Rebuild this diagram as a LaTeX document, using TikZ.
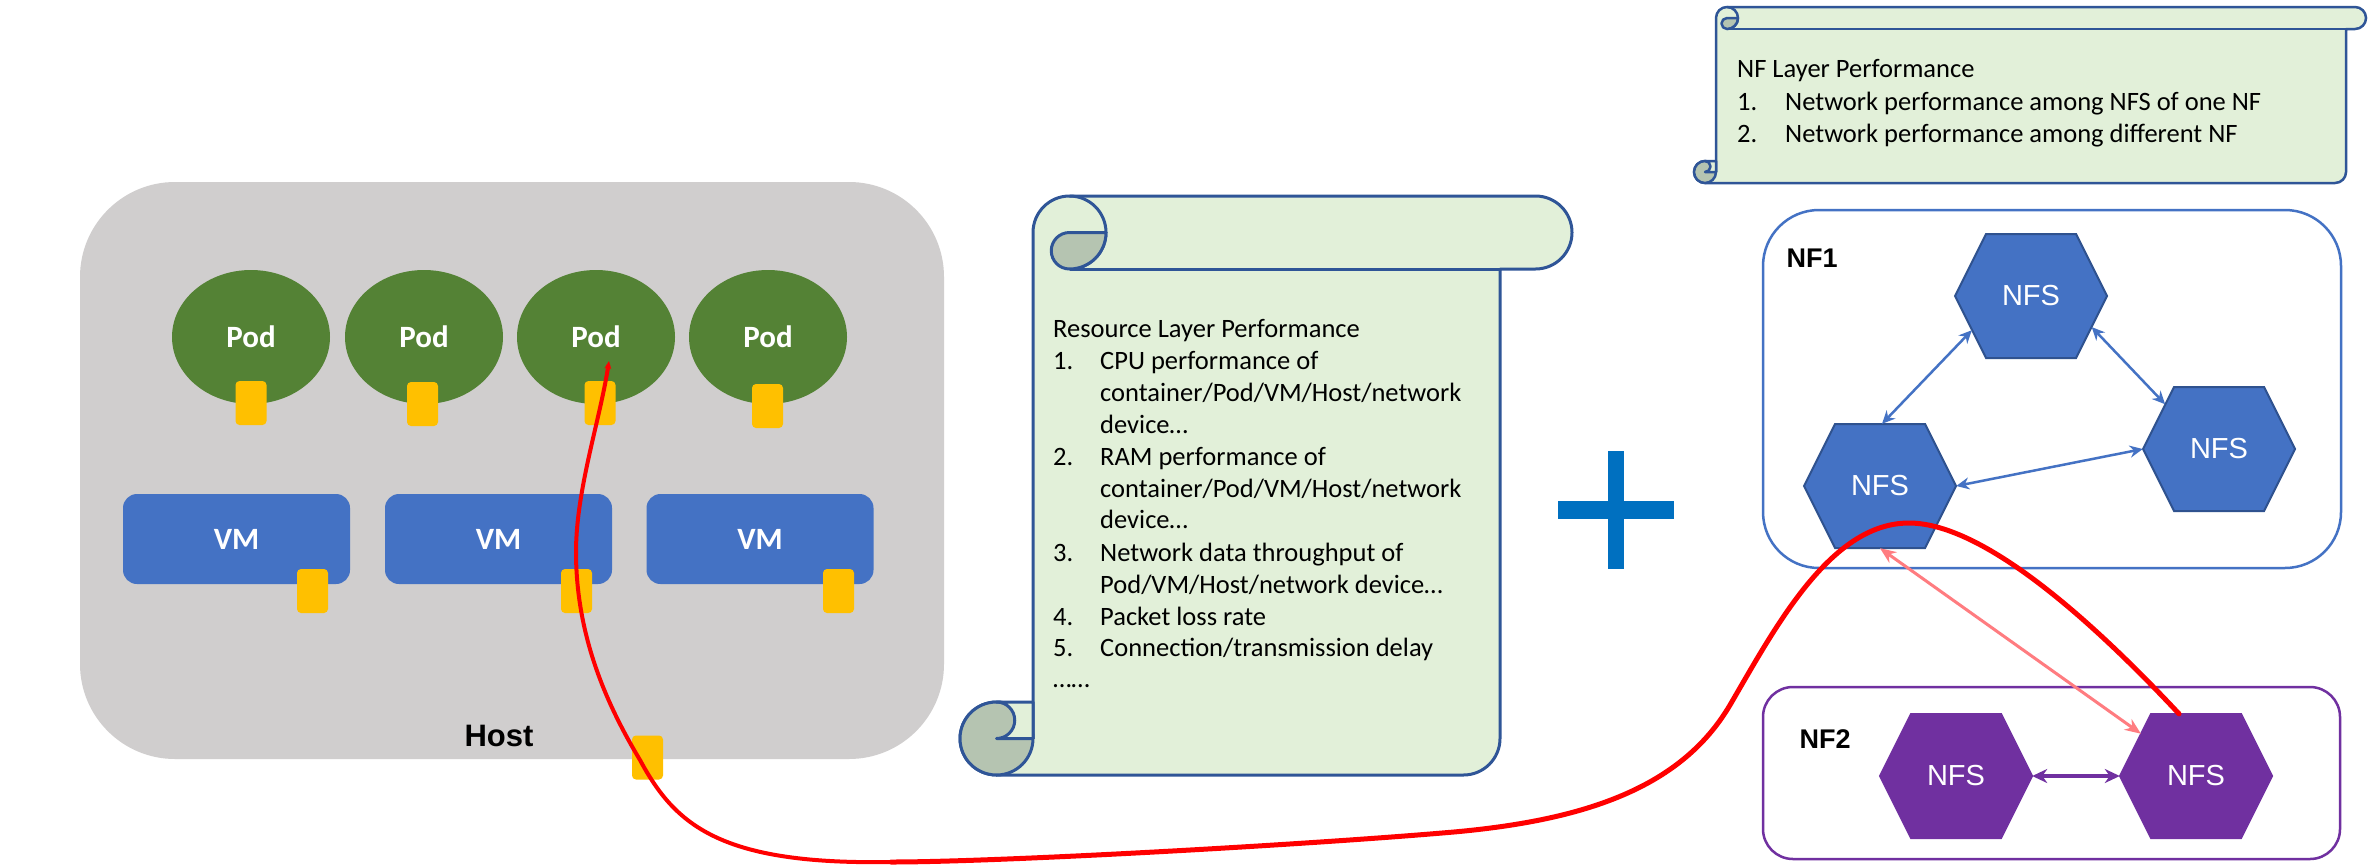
\documentclass[tikz,border=0pt]{standalone}
\usepackage{fontspec}
\setmainfont{Carlito}
\newfontfamily\arialf{Liberation Sans}
\usetikzlibrary{shapes.geometric,arrows.meta,calc}
\definecolor{hostgray}{HTML}{D0CECE}
\definecolor{podgreen}{HTML}{548235}
\definecolor{vmblue}{HTML}{4472C4}
\definecolor{portyellow}{HTML}{FFC000}
\definecolor{hexblue}{HTML}{4472C4}
\definecolor{hexblueline}{HTML}{2F528F}
\definecolor{nfpurple}{HTML}{7030A0}
\definecolor{scrollgreen}{HTML}{E2F0D9}
\definecolor{curlgreen}{HTML}{B5C4B1}
\definecolor{scrollline}{HTML}{2F5597}
\definecolor{plusblue}{HTML}{0070C0}
\definecolor{pinkline}{HTML}{FF7C80}
\definecolor{redline}{HTML}{FF0000}

% L T R Rr B c linewidth
\newcommand{\scrollshape}[7]{%
 \begin{scope}[draw=scrollline, line width=#7, line join=round]
 \filldraw[fill=scrollgreen] (#1,{#2+#6}) arc[start angle=180,end angle=270,radius=#6]
   -- ({#4-#6},#2) arc[start angle=270,end angle=450,radius=#6]
   -- (#3,{#2+2*#6}) -- (#3,{#5-#6}) arc[start angle=0,end angle=90,radius=#6]
   -- ({#1-#6},#5) arc[start angle=90,end angle=360,radius=#6] -- cycle;
 \filldraw[fill=curlgreen] ({#1-#6},{#5-#6}) circle[radius=#6];
 \filldraw[fill=scrollgreen] ({#1-#6},{#5-2*#6}) -- (#1,{#5-2*#6}) -- (#1,{#5-#6}) -- ({#1-#6},{#5-#6})
   arc[start angle=90,end angle=-90,radius={#6/2}] -- cycle;
 \draw ({#1+#6},#2) arc[start angle=270,end angle=450,radius=#6];
 \filldraw[fill=curlgreen] ({#1+#6},{#2+#6}) -- ({#1+2*#6},{#2+#6}) arc[start angle=0,end angle=90,radius=#6]
   arc[start angle=90,end angle=270,radius={#6/2}] -- cycle;
 \draw ({#1+#6},{#2+2*#6}) -- (#3,{#2+2*#6});
 \end{scope}}

% name x y fill line
\newcommand{\hexnode}[5]{%
 \filldraw[fill=#4, draw=#5, line width=2pt, line join=miter] ({#2-76},#3) -- ({#2-45},{#3-62}) -- ({#2+45},{#3-62})
   -- ({#2+76},#3) -- ({#2+45},{#3+62}) -- ({#2-45},{#3+62}) -- cycle;
 \node[nfstext] (#1) at (#2,#3) {NFS};}

\tikzset{
  hostbox/.style={rectangle, fill=hostgray, rounded corners=95pt, minimum width=864pt, minimum height=577pt, inner sep=0pt},
  pod/.style={ellipse, fill=podgreen, minimum width=158pt, minimum height=134pt, inner sep=0pt,
     text=white, font=\fontsize{31}{36}\selectfont\bfseries},
  vm/.style={rectangle, fill=vmblue, rounded corners=14pt, minimum width=227pt, minimum height=90pt, inner sep=0pt,
     text=white, font=\fontsize{31}{36}\selectfont\bfseries},
  port/.style={rectangle, fill=portyellow, rounded corners=4pt, minimum width=31pt, minimum height=44pt, inner sep=0pt},
  boldlabel/.style={inner sep=0pt, font=\arialf\fontsize{31}{36}\selectfont\bfseries},
  nflabel/.style={inner sep=0pt, font=\arialf\fontsize{27}{32}\selectfont\bfseries},
  nfstext/.style={rectangle, minimum width=152pt, minimum height=124pt, inner sep=0pt, text=white,
     font=\arialf\fontsize{29}{32}\selectfont},
  nfbox/.style={rectangle, line width=2.5pt, inner sep=0pt},
  scrolltext/.style={anchor=base west, inner sep=0pt, font=\fontsize{26.5}{31}\selectfont},
  bluearrow/.style={draw=hexblue, line width=2.5pt, {Stealth[length=13pt,width=12pt]}-{Stealth[length=13pt,width=12pt]}},
  purplearrow/.style={draw=nfpurple, line width=3.5pt, {Stealth[length=15pt,width=14pt]}-{Stealth[length=15pt,width=14pt]}},
  pinkarrow/.style={draw=pinkline, line width=3pt, {Stealth[length=16pt,width=13pt]}-{Stealth[length=16pt,width=13pt]}},
  redcurve/.style={draw=redline, line cap=round, line join=round},
}

\begin{document}
\begin{tikzpicture}[x=1pt, y=1pt, yscale=-1]
\useasboundingbox[fill=white] (0,0) rectangle (2369,865);

% ---------- Host ----------
\node[hostbox] (host) at (512,470.5) {};
\node[boldlabel] (hostlabel) at (499,736) {Host};

\node[pod] (pod1) at (251,337) {Pod};
\node[pod] (pod2) at (424,337) {Pod};
\node[pod] (pod3) at (596,337) {Pod};
\node[pod] (pod4) at (768,337) {Pod};
\node[port] (pp1) at (251,403) {};
\node[port] (pp2) at (422.5,404) {};
\node[port] (pp3) at (600,403) {};
\node[port] (pp4) at (767.5,406) {};

\node[vm] (vm1) at (236.5,539) {VM};
\node[vm] (vm2) at (498.5,539) {VM};
\node[vm] (vm3) at (760,539) {VM};
\node[port] (vp1) at (312.5,591) {};
\node[port] (vp2) at (576.5,591) {};
\node[port] (vp3) at (838.5,591) {};
\node[port] (hp) at (647.5,757.5) {};

% ---------- Resource scroll ----------
\scrollshape{1033}{196}{1500}{1572}{775}{36.5}{3pt}
\node[scrolltext] (r0) at (1053,337) {Resource Layer Performance};
\node[scrolltext] (r1) at (1053,369) {\makebox[47pt][l]{1.}CPU performance of};
\node[scrolltext] (r2) at (1100,401) {container/Pod/VM/Host/network};
\node[scrolltext] (r3) at (1100,433) {device…};
\node[scrolltext] (r4) at (1053,465) {\makebox[47pt][l]{2.}RAM performance of};
\node[scrolltext] (r5) at (1100,497) {container/Pod/VM/Host/network};
\node[scrolltext] (r6) at (1100,528) {device…};
\node[scrolltext] (r7) at (1053,561) {\makebox[47pt][l]{3.}Network data throughput of};
\node[scrolltext] (r8) at (1100,593) {Pod/VM/Host/network device…};
\node[scrolltext] (r9) at (1053,625) {\makebox[47pt][l]{4.}Packet loss rate};
\node[scrolltext] (r10) at (1053,656) {\makebox[47pt][l]{5.}Connection/transmission delay};
\node[scrolltext] (r11) at (1053,687) {……};

% ---------- plus ----------
\fill[plusblue] (1608,451) rectangle (1624,569);
\fill[plusblue] (1558,501) rectangle (1674,519);

% ---------- NF scroll ----------
\scrollshape{1716}{7}{2346}{2366}{183}{11}{2.5pt}
\node[scrolltext] (n0) at (1737,77) {NF Layer Performance};
\node[scrolltext] (n1) at (1737,110) {\makebox[48pt][l]{1.}Network performance among NFS of one NF};
\node[scrolltext] (n2) at (1737,142) {\makebox[48pt][l]{2.}Network performance among different NF};

% ---------- NF1 ----------
\node[nfbox, draw=hexblue, rounded corners=56pt, minimum width=578pt, minimum height=358pt] (nf1) at (2052,389) {};
\node[nflabel] (nf1label) at (1812,258) {NF1};
\hexnode{t}{2031}{296}{hexblue}{hexblueline}
\hexnode{r}{2219}{449}{hexblue}{hexblueline}
\hexnode{l}{1880}{486}{hexblue}{hexblueline}
\draw[bluearrow] ($(t.west)!0.55!([xshift=31pt]t.south west)$) -- ([xshift=2pt]l.north);
\draw[bluearrow] ($(t.east)!0.5!([xshift=-31pt]t.south east)$) -- ($(r.west)!0.72!([xshift=31pt]r.north west)$);
\draw[bluearrow] (l.east) -- (r.west);

% ---------- NF2 ----------
\node[nfbox, draw=nfpurple, rounded corners=30pt, minimum width=577pt, minimum height=172pt] (nf2) at (2051.5,773) {};
\node[nflabel] (nf2label) at (1825,739) {NF2};
\hexnode{ma}{1956}{776}{nfpurple}{nfpurple}
\hexnode{mb}{2196}{776}{nfpurple}{nfpurple}
\draw[purplearrow] (ma.east) -- (mb.west);

\draw[pinkarrow] (l.south) -- ($(mb.west)!0.68!([xshift=31pt]mb.north west)$);

% ---------- red curve ----------
\coordinate (redstart) at ([shift={(13,24)}]pod3.center);
\coordinate (redmid) at (891,862);
\coordinate (redend) at ([xshift=-17pt]mb.north);
\draw[redcurve, line width=4pt, {Stealth[length=8pt,width=7pt]}-] (redstart)
  .. controls (600,420) and (576,490) .. (576,552)
  .. controls (576,640) and (610,710) .. (640,760)
  .. controls (675,825) and (720,865) .. (redmid);
\draw[redcurve, line width=5pt] (redmid)
  .. controls (1000,862) and (1300,845) .. (1442,833)
  .. controls (1580,822) and (1680,790) .. (1730,705)
  .. controls (1775,628) and (1830,523) .. (1909,523)
  .. controls (1990,523) and (2110,640) .. (redend);
\end{tikzpicture}
\end{document}
